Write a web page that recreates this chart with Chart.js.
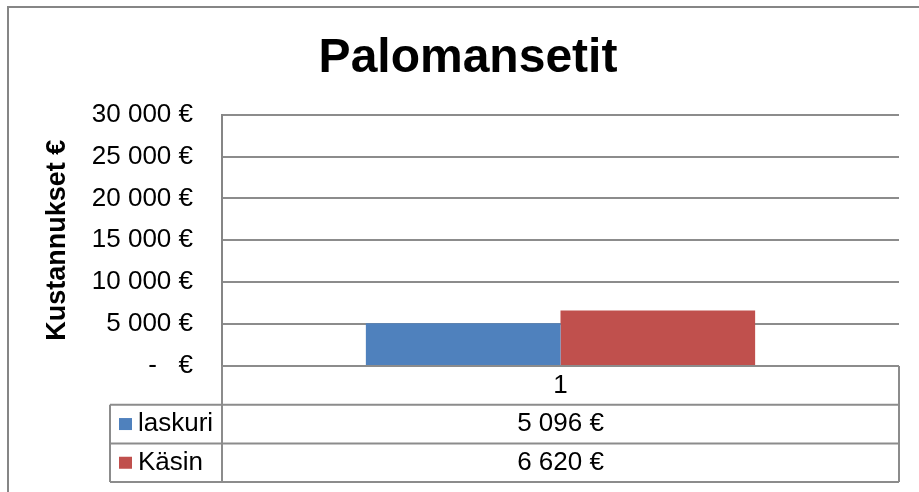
<!DOCTYPE html>
<html>
<head>
<meta charset="utf-8">
<title>Palomansetit</title>
<script src="https://cdn.jsdelivr.net/npm/chart.js@4/dist/chart.umd.min.js"></script>
<style>
  html, body { margin: 0; padding: 0; background: #fff; }
  #wrap { width: 919px; height: 492px; position: relative; }
</style>
</head>
<body>
<div id="wrap"><canvas id="chart" width="919" height="492"></canvas></div>
<script>
// data
const categories = ['1'];
const seriesNames = ['laskuri', 'Käsin'];
const laskuri = [5096];
const kasin = [6620];
const yTicks = [0, 5000, 10000, 15000, 20000, 25000, 30000];

const FONT = "'Liberation Sans', Arial, sans-serif";
const GRID = '#8c8c8c';
const COLORS = ['#4f81bd', '#c0504d'];
const PAD_LEFT = 37;

// Excel style money: "5 096 €", zero as "-   €"
function euro(v){
  if(v === 0) return '-   €';
  return String(Math.round(v)).replace(/\B(?=(\d{3})+(?!\d))/g, ' ') + ' €';
}

// white background + outer frame
const framePlugin = {
  id: 'frame',
  beforeDraw(chart){
    const {ctx, width, height} = chart;
    ctx.save();
    ctx.fillStyle = '#fff';
    ctx.fillRect(0, 0, width, height);
    ctx.strokeStyle = '#868686';
    ctx.lineWidth = 2;
    ctx.beginPath();
    ctx.moveTo(8, height + 2);
    ctx.lineTo(8, 7);
    ctx.lineTo(width + 2, 7);
    ctx.stroke();
    ctx.restore();
  }
};

// data table under the plot, like Excel's "data table" option
const tablePlugin = {
  id: 'dataTable',
  afterDraw(chart){
    const {ctx, chartArea} = chart;
    const xs = chart.scales.x;
    const left = chartArea.left, right = chartArea.right, top = chartArea.bottom;
    const rowH = 38.7;
    const legLeft = 110;
    const datasets = chart.data.datasets;

    ctx.save();
    ctx.strokeStyle = GRID;
    ctx.lineWidth = 2;
    ctx.beginPath();
    // horizontal lines
    ctx.moveTo(left, top); ctx.lineTo(right, top);
    for(let i = 1; i <= datasets.length + 1; i++){
      const y = top + rowH * i;
      ctx.moveTo(legLeft, y); ctx.lineTo(right, y);
    }
    const bottom = top + rowH * (datasets.length + 1);
    // vertical lines
    ctx.moveTo(left, top); ctx.lineTo(left, bottom);
    ctx.moveTo(right, top); ctx.lineTo(right, bottom);
    ctx.moveTo(legLeft, top + rowH); ctx.lineTo(legLeft, bottom);
    ctx.stroke();

    ctx.fillStyle = '#000';
    ctx.font = '26px ' + FONT;
    ctx.textBaseline = 'middle';

    // category row
    ctx.textAlign = 'center';
    chart.data.labels.forEach((lab, i) => {
      ctx.fillText(lab, xs.getPixelForValue(i), top + rowH / 2);
    });

    // series rows
    datasets.forEach((ds, r) => {
      const yc = top + rowH * (r + 1) + rowH / 2;
      ctx.fillStyle = ds.backgroundColor;
      ctx.fillRect(legLeft + 9, yc - 6, 13, 12);
      ctx.fillStyle = '#000';
      ctx.textAlign = 'left';
      ctx.fillText(ds.label, legLeft + 28, yc);
      ctx.textAlign = 'center';
      ds.data.forEach((v, i) => {
        ctx.fillText(euro(v), xs.getPixelForValue(i), yc);
      });
    });
    ctx.restore();
  }
};

new Chart(document.getElementById('chart'), {
  type: 'bar',
  data: {
    labels: categories,
    datasets: [
      {label: seriesNames[0], data: laskuri, backgroundColor: COLORS[0]},
      {label: seriesNames[1], data: kasin, backgroundColor: COLORS[1]}
    ]
  },
  options: {
    responsive: false,
    animation: false,
    events: [],
    layout: {padding: {left: PAD_LEFT, right: 20, top: 0, bottom: 126}},
    datasets: {bar: {categoryPercentage: 0.575, barPercentage: 1.0, borderWidth: 0}},
    plugins: {
      legend: {display: false},
      tooltip: {enabled: false},
      title: {
        display: true,
        text: 'Palomansetit',
        color: '#000',
        font: {family: FONT, size: 48, weight: 'bold'},
        padding: {top: 30, bottom: 27}
      }
    },
    scales: {
      x: {display: false},
      y: {
        min: 0,
        max: 30000,
        afterFit(scale){ scale.width = 222 - PAD_LEFT; },
        afterBuildTicks(scale){ scale.ticks = yTicks.map(v => ({value: v})); },
        border: {display: true, color: '#868686', width: 2},
        grid: {color: GRID, lineWidth: 2, drawTicks: false},
        ticks: {
          color: '#000',
          padding: 29,
          font: {family: FONT, size: 26},
          callback: v => euro(v)
        },
        title: {
          display: true,
          text: 'Kustannukset €',
          color: '#000',
          font: {family: FONT, size: 27, weight: 'bold'},
          padding: {top: 4, bottom: 0}
        }
      }
    }
  },
  plugins: [framePlugin, tablePlugin]
});
</script>
</body>
</html>
